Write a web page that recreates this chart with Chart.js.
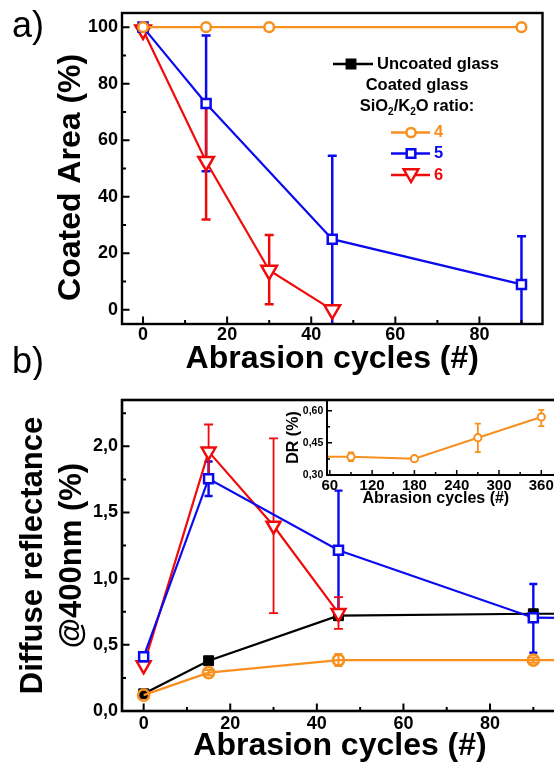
<!DOCTYPE html>
<html lang="en">
<head>
<meta charset="UTF-8">
<title>Coated area and diffuse reflectance vs abrasion cycles</title>
<script src="https://cdn.jsdelivr.net/npm/chart.js@4.4.1/dist/chart.umd.min.js"></script>
<style>
  html, body { margin: 0; padding: 0; background: #fff; overflow: hidden; }
  #wrap { position: relative; width: 554px; height: 765px; overflow: hidden; }
  canvas { position: absolute; }
</style>
</head>
<body>
<div id="wrap">
  <canvas id="chartA" width="554" height="380" style="left:0;top:0"></canvas>
  <canvas id="chartB" width="600" height="385" style="left:0;top:380px"></canvas>
  <canvas id="chartInset" width="330" height="119" style="left:270px;top:391px"></canvas>
</div>

<script>
// ---- panel a) coated area (%) vs abrasion cycles ----
const A_X_4 = [0, 15, 30, 90];
const A_Y_4 = [100, 100, 100, 100];

const A_X_5 = [0, 15, 45, 90];
const A_Y_5 = [100, 73, 25, 9];
const A_LO_5 = [null, 49, -8, -8];
const A_HI_5 = [null, 97, 54.5, 26];

const A_X_6 = [0, 15, 30, 45];
const A_Y_6 = [99, 52.5, 14, 0];
const A_LO_6 = [null, 32, 2, null];
const A_HI_6 = [null, 73, 26.5, null];

// ---- panel b) diffuse reflectance @400nm (%) ----
const B_X_UNC = [0, 15, 45, 90, 180];
const B_Y_UNC = [0.13, 0.38, 0.72, 0.735, 0.73];

const B_X_4 = [0, 15, 45, 90, 180, 270, 360];
const B_Y_4 = [0.12, 0.29, 0.385, 0.385, 0.376, 0.474, 0.571];
const B_LO_4 = [0.10, 0.27, 0.34, 0.365, 0.366, 0.407, 0.528];
const B_HI_4 = [0.14, 0.31, 0.43, 0.405, 0.386, 0.54, 0.604];

const B_X_5 = [0, 15, 45, 90, 180];
const B_Y_5 = [0.41, 1.755, 1.215, 0.705, 0.69];
const B_LO_5 = [null, 1.625, 0.77, 0.44, null];
const B_HI_5 = [null, 1.885, 1.665, 0.96, null];

const B_X_6 = [0, 15, 30, 45];
const B_Y_6 = [0.345, 1.96, 1.40, 0.74];
const B_LO_6 = [null, 1.75, 0.74, 0.62];
const B_HI_6 = [null, 2.165, 2.06, 0.86];

// ---- ticks ----
const X_TICKS = [0, 20, 40, 60, 80];
const X_MINOR = [10, 30, 50, 70, 90];
const A_Y_TICKS = [0, 20, 40, 60, 80, 100];
const A_Y_MINOR = [10, 30, 50, 70, 90];
const B_Y_TICKS = [0, 0.5, 1.0, 1.5, 2.0];
const B_Y_MINOR = [0.25, 0.75, 1.25, 1.75, 2.25];
const INSET_X_TICKS = [60, 120, 180, 240, 300, 360];
const INSET_X_MINOR = [90, 150, 210, 270, 330];
const INSET_Y_TICKS = [0.30, 0.45, 0.60];
const INSET_Y_MINOR = [0.375, 0.525];

const FONT = "'Liberation Sans', Arial, sans-serif";
const ORANGE = '#F7901E';
const BLUE = '#0A0AF0';
const RED = '#F00A0A';

Chart.defaults.font.family = FONT;
Chart.defaults.color = '#000';

const pts = (xs, ys) => xs.map((x, i) => ({ x, y: ys[i] }));
const comma = d => v => v.toFixed(d).replace('.', ',');

function series(xs, ys, color, style, radius, extra) {
  return Object.assign({
    data: pts(xs, ys),
    borderColor: color,
    borderWidth: 2.2,
    pointStyle: style,
    pointRadius: radius,
    pointBorderColor: color,
    pointBorderWidth: 2.5,
    pointBackgroundColor: '#fff',
    pointRotation: style === 'triangle' ? 180 : 0,
    tension: 0,
    fill: false
  }, extra || {});
}

function axis(min, max, ticks, fmt, tickFont, tickPad, title, titleFont, titlePad, size, horiz) {
  return {
    type: 'linear', min, max,
    grid: { display: false, drawTicks: false },
    border: { display: false },
    afterBuildTicks: s => { s.ticks = ticks.map(v => ({ value: v })); },
    afterFit: s => { if (horiz) s.height = size; else s.width = size; },
    ticks: {
      padding: tickPad,
      font: { size: tickFont, weight: 'bold', lineHeight: 1 },
      callback: v => fmt ? fmt(v) : v
    },
    title: {
      display: true, text: title,
      font: { size: titleFont.size, weight: 'bold', lineHeight: titleFont.lh },
      padding: titlePad
    }
  };
}

// frame + inward ticks
const frame = {
  id: 'frame',
  afterDraw(chart, args, o) {
    const { ctx, chartArea: a, scales: { x, y } } = chart;
    ctx.save();
    ctx.strokeStyle = '#000';
    ctx.lineWidth = o.width;
    ctx.strokeRect(a.left, a.top, a.right - a.left, a.bottom - a.top);
    ctx.lineWidth = o.tickWidth;
    ctx.beginPath();
    const xt = (list, len) => list.forEach(v => {
      const p = x.getPixelForValue(v);
      if (p < a.left || p > a.right) return;
      ctx.moveTo(p, a.bottom); ctx.lineTo(p, a.bottom - len);
    });
    const yt = (list, len) => list.forEach(v => {
      const p = y.getPixelForValue(v);
      ctx.moveTo(a.left, p); ctx.lineTo(a.left + len, p);
    });
    xt(o.xMajor, o.major); xt(o.xMinor, o.minor);
    yt(o.yMajor, o.major); yt(o.yMinor, o.minor);
    ctx.stroke();
    ctx.restore();
  }
};

// vertical error bars from dataset errLow / errHigh
const errorBars = {
  id: 'errorBars',
  beforeDatasetsDraw(chart) {
    const { ctx, chartArea: a, scales: { x, y } } = chart;
    ctx.save();
    ctx.beginPath();
    ctx.rect(a.left, a.top, a.right - a.left, a.bottom - a.top);
    ctx.clip();
    chart.data.datasets.forEach(ds => {
      if (!ds.errHigh) return;
      ctx.strokeStyle = ds.borderColor;
      ctx.lineWidth = ds.errWidth;
      ds.data.forEach((p, i) => {
        const hi = ds.errHigh[i], lo = ds.errLow[i];
        if (hi == null) return;
        const px = x.getPixelForValue(p.x);
        const y1 = y.getPixelForValue(hi), y2 = y.getPixelForValue(lo);
        const c = ds.errCap;
        ctx.beginPath();
        ctx.moveTo(px, y1); ctx.lineTo(px, y2);
        ctx.moveTo(px - c, y1); ctx.lineTo(px + c, y1);
        ctx.moveTo(px - c, y2); ctx.lineTo(px + c, y2);
        ctx.stroke();
      });
    });
    ctx.restore();
  }
};

function marker(ctx, kind, x, y, r, color, filled) {
  ctx.beginPath();
  if (kind === 'circle') ctx.arc(x, y, r, 0, Math.PI * 2);
  else if (kind === 'square') ctx.rect(x - r, y - r, 2 * r, 2 * r);
  else {
    ctx.moveTo(x, y + r);
    ctx.lineTo(x - r * 0.866, y - r / 2);
    ctx.lineTo(x + r * 0.866, y - r / 2);
    ctx.closePath();
  }
  ctx.fillStyle = filled ? color : '#fff';
  ctx.fill();
  ctx.strokeStyle = color;
  ctx.lineWidth = 2.5;
  ctx.stroke();
}

// panel letters and the legend of panel a
const panelText = {
  id: 'panelText',
  afterDraw(chart) {
    const ctx = chart.ctx;
    ctx.save();
    ctx.fillStyle = '#000';
    ctx.font = `36px ${FONT}`;
    ctx.textBaseline = 'alphabetic';
    ctx.textAlign = 'left';
    ctx.fillText('a)', 12, 37);
    ctx.fillText('b)', 12, 373);

    const big = `bold 16.5px ${FONT}`, small = `bold 10px ${FONT}`;
    ctx.textBaseline = 'middle';

    const row = (x1, x2, y, color) => {
      ctx.strokeStyle = color; ctx.lineWidth = 2.5;
      ctx.beginPath(); ctx.moveTo(x1, y); ctx.lineTo(x2, y); ctx.stroke();
    };
    row(333, 373, 64, '#000');
    marker(ctx, 'square', 351, 64, 4.2, '#000', true);
    ctx.fillStyle = '#000';
    ctx.font = big;
    ctx.fillText('Uncoated glass', 377, 64);
    ctx.textAlign = 'center';
    ctx.fillText('Coated glass', 417, 85);

    const parts = [['SiO', 0], ['2', 1], ['/K', 0], ['2', 1], ['O ratio:', 0]];
    let w = 0;
    parts.forEach(([t, s]) => { ctx.font = s ? small : big; w += ctx.measureText(t).width; });
    let x = 417 - w / 2;
    ctx.textAlign = 'left';
    parts.forEach(([t, s]) => {
      ctx.font = s ? small : big;
      ctx.fillText(t, x, s ? 112 : 106.5);
      x += ctx.measureText(t).width;
    });

    const items = [['4', ORANGE, 'circle', 4.6, 132.5], ['5', BLUE, 'square', 4.3, 153.5], ['6', RED, 'triangle', 8.5, 175]];
    items.forEach(([lab, col, kind, r, y]) => {
      row(391, 430, y, col);
      marker(ctx, kind, 411, kind === 'triangle' ? y - 1.5 : y, r, col, false);
      ctx.fillStyle = col;
      ctx.font = big;
      ctx.fillText(lab, 434, y);
    });
    ctx.restore();
  }
};

// ---- chart a ----
new Chart(document.getElementById('chartA'), {
  type: 'line',
  data: {
    datasets: [
      series(A_X_4, A_Y_4, ORANGE, 'circle', 4.8),
      series(A_X_5, A_Y_5, BLUE, 'rect', 6.4, { errLow: A_LO_5, errHigh: A_HI_5, errWidth: 2.5, errCap: 4.5 }),
      series(A_X_6, A_Y_6, RED, 'triangle', 9, { errLow: A_LO_6, errHigh: A_HI_6, errWidth: 2.5, errCap: 4.5 })
    ]
  },
  options: {
    responsive: false,
    animation: false,
    layout: { padding: { left: 0, top: 13, right: 2, bottom: 0 } },
    plugins: {
      legend: { display: false },
      tooltip: { enabled: false },
      frame: { width: 2.4, tickWidth: 2, major: 7.5, minor: 4, xMajor: X_TICKS, xMinor: X_MINOR, yMajor: A_Y_TICKS, yMinor: A_Y_MINOR }
    },
    scales: {
      x: axis(-5, 95, X_TICKS, null, 18, 2, 'Abrasion cycles (#)', { size: 32, lh: 1.2 }, { top: 0, bottom: 2 }, 56, true),
      y: axis(-5, 105, A_Y_TICKS, null, 18, 4, 'Coated Area (%)  ', { size: 32, lh: 1.2 }, { top: 51.5, bottom: 0 }, 122, false)
    }
  },
  plugins: [errorBars, frame, panelText]
});

// ---- chart b (its right border lies just past the picture edge) ----
new Chart(document.getElementById('chartB'), {
  type: 'line',
  data: {
    datasets: [
      series(B_X_5, B_Y_5, BLUE, 'rect', 6.4, { errLow: B_LO_5, errHigh: B_HI_5, errWidth: 2.4, errCap: 4 }),
      series(B_X_6, B_Y_6, RED, 'triangle', 8, { errLow: B_LO_6, errHigh: B_HI_6, errWidth: 1.8, errCap: 4.5 }),
      series(B_X_4, B_Y_4, ORANGE, 'circle', 5.6, { errLow: B_LO_4, errHigh: B_HI_4, errWidth: 2, errCap: 4, pointBackgroundColor: 'rgba(255,255,255,0)' }),
      series(B_X_UNC, B_Y_UNC, '#000', 'rect', 7, { pointBackgroundColor: '#000', pointBorderWidth: 1 })
    ]
  },
  options: {
    responsive: false,
    animation: false,
    layout: { padding: { left: 0, top: 20, right: 42, bottom: 0 } },
    plugins: {
      legend: { display: false },
      tooltip: { enabled: false },
      frame: { width: 2.6, tickWidth: 2, major: 7.5, minor: 4, xMajor: X_TICKS, xMinor: X_MINOR, yMajor: B_Y_TICKS, yMinor: B_Y_MINOR }
    },
    scales: {
      x: axis(-5, 95.7, X_TICKS, null, 18, 4, 'Abrasion cycles (#)', { size: 32, lh: 1.2 }, { top: 0, bottom: 0 }, 54, true),
      y: axis(0, 2.35, B_Y_TICKS, comma(1), 18, 4, ['Diffuse reflectance', '@400nm (%)'], { size: 31, lh: 1.26 }, { top: 14, bottom: 0 }, 122, false)
    }
  },
  plugins: [errorBars, frame]
});

// ---- inset of chart b, top edge shared with the main frame ----
new Chart(document.getElementById('chartInset'), {
  type: 'line',
  data: {
    datasets: [
      series(B_X_4, B_Y_4, ORANGE, 'circle', 3.6, { borderWidth: 2, pointBorderWidth: 2, errLow: B_LO_4, errHigh: B_HI_4, errWidth: 1.8, errCap: 3 })
    ]
  },
  options: {
    responsive: false,
    animation: false,
    layout: { padding: { left: 0, top: 9, right: 42, bottom: 0 } },
    plugins: {
      legend: { display: false },
      tooltip: { enabled: false },
      frame: { width: 2, tickWidth: 1.5, major: 5, minor: 3, xMajor: INSET_X_TICKS, xMinor: INSET_X_MINOR, yMajor: INSET_Y_TICKS, yMinor: INSET_Y_MINOR }
    },
    scales: {
      x: axis(56, 383.7, INSET_X_TICKS, null, 15, 3, 'Abrasion cycles (#)   ', { size: 16, lh: 1.2 }, { top: 0, bottom: 2 }, 35, true),
      y: axis(0.30, 0.65, INSET_Y_TICKS, comma(2), 10.5, 3.7, 'DR (%)', { size: 16, lh: 1.2 }, { top: 14.4, bottom: 0 }, 57, false)
    }
  },
  plugins: [errorBars, frame]
});
</script>
</body>
</html>
